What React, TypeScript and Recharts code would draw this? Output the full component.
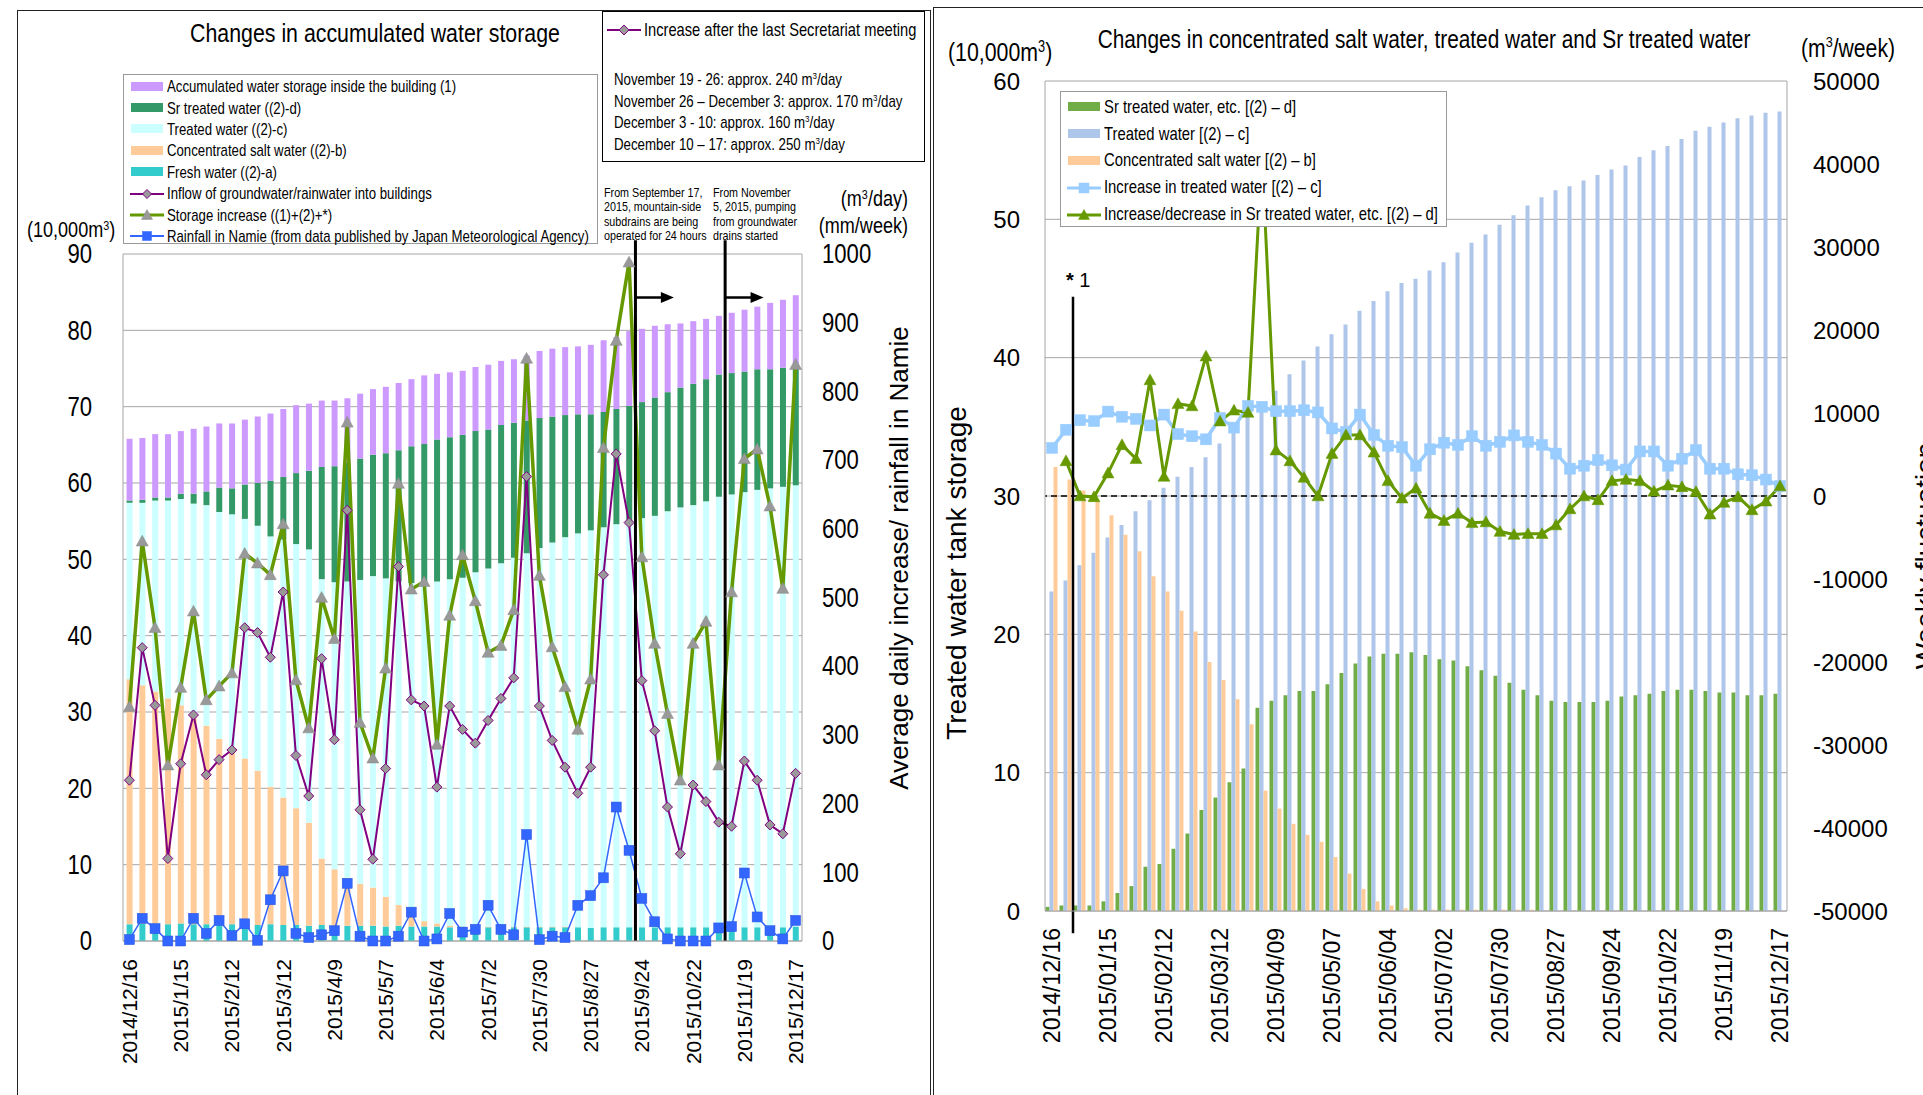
import React from 'react';
import { ComposedChart, Bar, Line, XAxis, YAxis, CartesianGrid, ReferenceLine } from 'recharts';

const SANS = "'Liberation Sans', Arial, sans-serif";
const SQUEEZE = 0.82; // stands in for Arial Narrow

// weekly dates (categories)
const dates = [
  '2014/12/16', '2014/12/25', '2015/1/1', '2015/1/8', '2015/1/15', '2015/1/22', '2015/1/29', '2015/2/5',
  '2015/2/12', '2015/2/19', '2015/2/26', '2015/3/5', '2015/3/12', '2015/3/19', '2015/3/26', '2015/4/2',
  '2015/4/9', '2015/4/16', '2015/4/23', '2015/4/30', '2015/5/7', '2015/5/14', '2015/5/21', '2015/5/28',
  '2015/6/4', '2015/6/11', '2015/6/18', '2015/6/25', '2015/7/2', '2015/7/9', '2015/7/16', '2015/7/23',
  '2015/7/30', '2015/8/6', '2015/8/13', '2015/8/20', '2015/8/27', '2015/9/3', '2015/9/10', '2015/9/17',
  '2015/9/24', '2015/10/1', '2015/10/8', '2015/10/15', '2015/10/22', '2015/10/29', '2015/11/5', '2015/11/12',
  '2015/11/19', '2015/11/26', '2015/12/3', '2015/12/10', '2015/12/17',
];

// storage, 10,000 m3
const freshWater = [
  2.2, 2.3, 2.3, 2.2, 2.3, 2.2, 2.2, 2.3, 2.2, 2.2, 2.1, 2.2, 2.1, 2.1, 2.0, 2.1, 2.0, 2.0, 2.0, 2.0,
  1.9, 2.0, 1.9, 1.9, 1.9, 1.8, 1.8, 1.9, 1.8, 1.8, 1.8, 1.8, 1.8, 1.8, 1.8, 1.8, 1.7, 1.8, 1.8, 1.8,
  1.8, 1.8, 1.8, 1.8, 1.8, 1.8, 1.8, 1.8, 1.8, 1.8, 1.8, 1.8, 1.9,
];
const saltWater = [
  32.1, 31.2, 30.4, 29.6, 28.6, 27.2, 26.0, 24.2, 23.1, 21.7, 20.2, 18.0, 16.7, 15.3, 13.5, 8.7, 7.4, 6.3, 5.5, 5.0,
  3.9, 2.7, 1.6, 0.7, 0.4, 0.2, 0.1, 0.1, 0.1, 0.1, 0.1, 0.1, 0.1, 0.1, 0.1, 0, 0, 0, 0, 0,
  0, 0, 0, 0, 0, 0, 0, 0, 0, 0, 0, 0, 0,
];
const treatedWater = [
  23.1, 23.9, 25.0, 25.9, 27.0, 27.9, 28.9, 29.7, 30.6, 31.4, 32.1, 32.8, 33.8, 34.6, 35.8, 36.6, 37.6, 38.8, 39.8, 40.8,
  41.7, 42.4, 43.4, 44.1, 44.8, 45.4, 45.7, 46.3, 46.9, 47.6, 48.3, 48.9, 49.6, 50.3, 51.0, 51.6, 52.1, 52.4, 52.8, 53.2,
  53.6, 53.9, 54.5, 55.0, 55.3, 55.8, 56.4, 56.7, 57.0, 57.3, 57.5, 57.7, 57.8,
];
const srTreated = [
  0.3, 0.4, 0.4, 0.4, 0.7, 1.3, 1.8, 3.2, 3.4, 4.5, 5.6, 7.3, 8.2, 9.3, 10.3, 14.7, 15.2, 15.6, 15.9, 15.9,
  16.4, 17.2, 17.9, 18.4, 18.6, 18.6, 18.7, 18.5, 18.2, 18.1, 17.7, 17.4, 17.0, 16.5, 16.0, 15.6, 15.2, 15.1, 15.1, 15.1,
  15.2, 15.5, 15.6, 15.7, 15.9, 16.0, 16.0, 15.9, 15.8, 15.8, 15.6, 15.6, 15.7,
];
const buildingWater = [
  8.1, 8.1, 8.3, 8.3, 8.2, 8.5, 8.5, 8.4, 8.5, 8.5, 8.7, 8.8, 8.9, 8.9, 8.8, 8.7, 8.6, 8.4, 8.5, 8.6,
  8.7, 8.8, 8.8, 9.0, 8.6, 8.5, 8.4, 8.4, 8.5, 8.4, 8.3, 8.5, 8.8, 8.9, 8.9, 8.9, 9.1, 9.4, 9.4, 9.8,
  9.6, 9.4, 8.9, 8.4, 8.2, 7.9, 7.7, 7.9, 8.1, 8.2, 8.7, 8.9, 9.2,
];

// m3/day and mm/week
const inflow = [
  234, 427, 343, 120, 258, 329, 242, 264, 278, 456, 449, 413, 508, 270, 211, 411, 293, 627, 191, 119,
  251, 545, 351, 342, 224, 342, 308, 288, 321, 353, 383, 676, 342, 292, 253, 215, 253, 533, 709, 609,
  379, 306, 195, 127, 227, 203, 173, 167, 262, 234, 169, 156, 244,
];
const storageIncrease = [
  341, 582, 456, 256, 369, 480, 351, 371, 390, 564, 550, 533, 607, 380, 310, 500, 440, 755, 318, 266,
  397, 666, 512, 523, 286, 474, 562, 495, 420, 430, 482, 848, 532, 428, 370, 308, 381, 718, 874, 988,
  559, 433, 331, 234, 433, 465, 256, 508, 702, 716, 633, 513, 839,
];
const rainfall = [
  2, 33, 18, 0, 0, 33, 11, 30, 8, 25, 1, 60, 102, 11, 5, 9, 15, 84, 7, 0,
  0, 7, 42, 0, 3, 40, 13, 17, 52, 17, 9, 155, 2, 7, 5, 52, 66, 92, 195, 132,
  62, 28, 3, 0, 0, 0, 19, 21, 99, 35, 15, 3, 30,
];

// m3/week
const treatedIncrease = [
  5790, 7980, 9130, 9020, 10170, 9550, 9290, 8500, 9810, 7460, 7200, 6830, 9390, 8240, 10850, 10750, 10220, 10220, 10330, 10070,
  8140, 7720, 9810, 7360, 6050, 5890, 3650, 5630, 6420, 6160, 7200, 6050, 6520, 7300, 6520, 6160, 5110, 3290, 3650, 4330,
  3700, 3180, 5370, 5370, 3650, 4490, 5530, 3290, 3290, 2610, 2500, 1980, 1200,
];
const srChange = [
  null, 4230, 0, -100, 2760, 6160, 4490, 13980, 2350, 11110, 10850, 16850, 9020, 10330, 10070, 41000, 5530, 4230, 2240, 0,
  5110, 7360, 7360, 5270, 1830, -260, 940, -2090, -2970, -2090, -3230, -3130, -4280, -4640, -4540, -4540, -3500, -1560, 0, -470,
  1830, 1980, 1830, 570, 1300, 1100, 520, -2190, -780, -100, -1670, -630, 1200,
];

const leftTicks = [0, 10, 20, 30, 40, 50, 60, 70, 80, 90];
const rightTicks = [0, 100, 200, 300, 400, 500, 600, 700, 800, 900, 1000];
const storageTicks = [0, 10, 20, 30, 40, 50, 60];
const weeklyTicks = [-50000, -40000, -30000, -20000, -10000, 0, 10000, 20000, 30000, 40000, 50000];

const rows = dates.map((date, i) => ({
  date,
  fresh: freshWater[i],
  salt: saltWater[i],
  treated: treatedWater[i],
  sr: srTreated[i],
  building: buildingWater[i],
  inflow: inflow[i],
  storage: storageIncrease[i],
  rain: rainfall[i],
  treatedInc: treatedIncrease[i],
  srInc: srChange[i],
}));

const padDate = (d: string) => {
  const [y, m, dd] = d.split('/');
  return `${y}/${m.padStart(2, '0')}/${dd.padStart(2, '0')}`;
};

function marker(kind: string, cx: number, cy: number, s: number, fill: string, stroke: string) {
  const h = s / 2;
  if (kind === 'diamond') {
    return <polygon points={`${cx},${cy - h} ${cx + h},${cy} ${cx},${cy + h} ${cx - h},${cy}`} fill={fill} stroke={stroke} strokeWidth={1} />;
  }
  if (kind === 'triangle') {
    return <polygon points={`${cx},${cy - h} ${cx + h},${cy + h * 0.8} ${cx - h},${cy + h * 0.8}`} fill={fill} stroke={stroke} strokeWidth={0.5} />;
  }
  return <rect x={cx - h} y={cy - h} width={s} height={s} fill={fill} stroke={stroke} strokeWidth={0.5} />;
}

const makeDot = (kind: string, size: number, fill: string, stroke: string) => (p: any) => {
  const { cx, cy, index } = p;
  const key = `${kind}-${fill}-${index}`;
  if (cx == null || cy == null || Number.isNaN(cx) || Number.isNaN(cy)) return <g key={key} />;
  return <g key={key}>{marker(kind, cx, cy, size, fill, stroke)}</g>;
};

const makeDateTick = (size: number, dy: number, padded: boolean) => (p: any) => {
  const { x, y, payload } = p;
  const ty = y + dy;
  return (
    <text x={x} y={ty} transform={`rotate(-90 ${x} ${ty})`} textAnchor="end" dominantBaseline="central"
      fontSize={size} fontFamily={SANS} fill="#000">
      {padded ? padDate(payload.value) : payload.value}
    </text>
  );
};

const makeNarrowTick = (size: number, anchor: string) => (p: any) => {
  const { x, y, payload } = p;
  return (
    <text x={0} y={0} transform={`translate(${x},${y}) scale(${SQUEEZE},1)`} textAnchor={anchor}
      dominantBaseline="central" fontSize={size} fontFamily={SANS} fill="#000">
      {payload.value}
    </text>
  );
};

const ArrowShape = (p: any) => {
  const { x1, y1, x2, y2 } = p;
  return (
    <g>
      <line x1={x1} y1={y1} x2={x2 - 10} y2={y2} stroke="#000" strokeWidth={2.5} />
      <polygon points={`${x2},${y2} ${x2 - 13},${y2 - 5.5} ${x2 - 13},${y2 + 5.5}`} fill="#000" />
    </g>
  );
};

// narrow text label: x,y is the anchor point, text vertically centred on y
const Label = ({ x, y, size, anchor = 'start', narrow = true, rotate = 0, children }: any) => {
  const shift = anchor === 'middle' ? '-50%' : anchor === 'end' ? '-100%' : '0';
  const origin = anchor === 'middle' ? 'center' : anchor === 'end' ? 'right center' : 'left center';
  const sx = narrow ? SQUEEZE : 1;
  return (
    <div style={{
      position: 'absolute', left: x, top: y, fontFamily: SANS, fontSize: size, lineHeight: 1,
      whiteSpace: 'nowrap', color: '#000', transformOrigin: origin,
      transform: `translate(${shift}, -50%) rotate(${rotate}deg) scaleX(${sx})`,
    }}>{children}</div>
  );
};

const Sup = ({ children }: any) => <span style={{ fontSize: '0.6em', verticalAlign: '0.6em' }}>{children}</span>;

const Swatch = ({ color }: any) => (
  <svg width={34} height={12} style={{ marginRight: 3, flex: 'none' }}>
    <rect x={1} y={1} width={32} height={9} fill={color} />
  </svg>
);

const LineKey = ({ color, width, kind, size, fill, stroke }: any) => (
  <svg width={34} height={14} style={{ marginRight: 3, flex: 'none' }}>
    <line x1={0} y1={7} x2={34} y2={7} stroke={color} strokeWidth={width} />
    {marker(kind, 17, 7, size, fill, stroke)}
  </svg>
);

const Row = ({ h, size, keyItem, children }: any) => (
  <div style={{ display: 'flex', alignItems: 'center', height: h, fontFamily: SANS, fontSize: size, whiteSpace: 'nowrap' }}>
    {keyItem}
    <span style={{ display: 'inline-block', transform: `scaleX(${SQUEEZE})`, transformOrigin: 'left center' }}>{children}</span>
  </div>
);

const Block = ({ x, y, size, lh, children }: any) => (
  <div style={{
    position: 'absolute', left: x, top: y, fontFamily: SANS, fontSize: size, lineHeight: `${lh}px`,
    whiteSpace: 'nowrap', transform: `scaleX(${SQUEEZE})`, transformOrigin: 'left top',
  }}>{children}</div>
);

const App: React.FC = () => {
  const grey = '#a6a6a6';
  return (
    <div style={{ position: 'absolute', left: 0, top: 0, width: 1923, height: 1095, background: '#fff', overflow: 'hidden' }}>
      {/* panel frames */}
      <div style={{ position: 'absolute', left: 17, top: 10, width: 912, height: 1100, border: '1.5px solid #222' }} />
      <div style={{ position: 'absolute', left: 933, top: 7, width: 1000, height: 1100, border: '1.5px solid #222' }} />

      {/* left chart */}
      <div style={{ position: 'absolute', left: 0, top: 0 }}>
        <ComposedChart width={935} height={1095} data={rows} margin={{ top: 254, right: 73, bottom: 14, left: 83 }}
          barCategoryGap="28%">
          <CartesianGrid yAxisId="left" vertical={false} stroke={grey} />
          <XAxis dataKey="date" interval={3} height={140} tickLine={false} axisLine={{ stroke: grey }}
            tick={makeDateTick(21, 10, false)} />
          <YAxis yAxisId="left" domain={[0, 90]} ticks={leftTicks} width={40} tickLine={false}
            axisLine={{ stroke: grey }} tickMargin={25} tick={makeNarrowTick(27, 'end')} />
          <YAxis yAxisId="right" orientation="right" domain={[0, 1000]} ticks={rightTicks} width={60} tickLine={false}
            axisLine={{ stroke: grey }} tickMargin={14} tick={makeNarrowTick(27, 'start')} />
          <Bar yAxisId="left" dataKey="fresh" stackId="s" fill="#33cccc" isAnimationActive={false} />
          <Bar yAxisId="left" dataKey="salt" stackId="s" fill="#ffcc99" isAnimationActive={false} />
          <Bar yAxisId="left" dataKey="treated" stackId="s" fill="#ccffff" isAnimationActive={false} />
          <Bar yAxisId="left" dataKey="sr" stackId="s" fill="#339966" isAnimationActive={false} />
          <Bar yAxisId="left" dataKey="building" stackId="s" fill="#cc99ff" isAnimationActive={false} />
          <Line yAxisId="right" dataKey="inflow" stroke="#800080" strokeWidth={2} isAnimationActive={false}
            dot={makeDot('diamond', 10, '#999999', '#800080')} activeDot={false} />
          <Line yAxisId="right" dataKey="storage" stroke="#669900" strokeWidth={3.5} isAnimationActive={false}
            dot={makeDot('triangle', 12, '#999999', '#888888')} activeDot={false} />
          <Line yAxisId="right" dataKey="rain" stroke="#3366ff" strokeWidth={1.5} isAnimationActive={false}
            dot={makeDot('square', 10, '#3366ff', '#2a55dd')} activeDot={false} />
          <ReferenceLine yAxisId="left" segment={[{ x: '2015/9/17', y: 0 }, { x: '2015/9/17', y: 91.8 }]}
            position="end" ifOverflow="visible" stroke="#000" strokeWidth={3} />
          <ReferenceLine yAxisId="left" segment={[{ x: '2015/11/5', y: 0 }, { x: '2015/11/5', y: 91.8 }]}
            position="end" ifOverflow="visible" stroke="#000" strokeWidth={3} />
          <ReferenceLine yAxisId="left" segment={[{ x: '2015/9/17', y: 84.3 }, { x: '2015/10/8', y: 84.3 }]}
            position="end" ifOverflow="visible" shape={ArrowShape} />
          <ReferenceLine yAxisId="left" segment={[{ x: '2015/11/5', y: 84.3 }, { x: '2015/11/26', y: 84.3 }]}
            position="end" ifOverflow="visible" shape={ArrowShape} />
        </ComposedChart>
      </div>

      {/* right chart */}
      <div style={{ position: 'absolute', left: 934, top: 0 }}>
        <ComposedChart width={989} height={1095} data={rows} margin={{ top: 81, right: 56, bottom: 34, left: 61 }}
          barCategoryGap={0.5} barGap={0}>
          <CartesianGrid yAxisId="left" vertical={false} stroke={grey} />
          <XAxis dataKey="date" interval={3} height={150} tickLine={false} axisLine={{ stroke: grey }}
            tick={makeDateTick(23, 9, true)} />
          <YAxis yAxisId="left" domain={[0, 60]} ticks={storageTicks} width={50} tickLine={false}
            axisLine={{ stroke: grey }} tickMargin={19} tick={{ fontSize: 24, fill: '#000', fontFamily: SANS }} />
          <YAxis yAxisId="right" orientation="right" domain={[-50000, 50000]} ticks={weeklyTicks} width={80}
            tickLine={false} axisLine={{ stroke: grey }} tickMargin={20} tick={{ fontSize: 24, fill: '#000', fontFamily: SANS }} />
          <Bar yAxisId="left" dataKey="sr" fill="#70ad47" isAnimationActive={false} />
          <Bar yAxisId="left" dataKey="treated" fill="#adc6ea" isAnimationActive={false} />
          <Bar yAxisId="left" dataKey="salt" fill="#ffcc99" isAnimationActive={false} />
          <ReferenceLine yAxisId="right" y={0} stroke="#000" strokeDasharray="6 4" strokeWidth={1.5} />
          <Line yAxisId="right" dataKey="treatedInc" stroke="#99ccff" strokeWidth={3.5} isAnimationActive={false}
            dot={makeDot('square', 11, '#99ccff', '#99ccff')} activeDot={false} />
          <Line yAxisId="right" dataKey="srInc" stroke="#669900" strokeWidth={3} isAnimationActive={false}
            dot={makeDot('triangle', 12, '#669900', '#669900')} activeDot={false} />
          <ReferenceLine yAxisId="left" segment={[{ x: '2014/12/25', y: -1.6 }, { x: '2014/12/25', y: 44.4 }]}
            position="end" ifOverflow="visible" stroke="#000" strokeWidth={2.5} />
        </ComposedChart>
      </div>

      {/* left chart texts */}
      <Label x={375} y={33} size={26} anchor="middle">Changes in accumulated water storage</Label>
      <Label x={27} y={230} size={22}>(10,000m<Sup>3</Sup>)</Label>
      <Label x={908} y={199} size={22} anchor="end">(m<Sup>3</Sup>/day)</Label>
      <Label x={908} y={226} size={22} anchor="end">(mm/week)</Label>
      <Label x={899} y={558} size={26} anchor="middle" narrow={false} rotate={-90}>Average daily increase/ rainfall in Namie</Label>

      <Block x={604} y={186} size={13.1} lh={14.4}>
        From September 17,<br />2015, mountain-side<br />subdrains are being<br />operated for 24 hours
      </Block>
      <Block x={713} y={186} size={13.1} lh={14.4}>
        From November<br />5, 2015, pumping<br />from groundwater<br />drains started
      </Block>

      <div style={{ position: 'absolute', left: 123, top: 74, width: 475, height: 170, border: '1px solid #999', background: '#fff', paddingLeft: 6, paddingTop: 1, boxSizing: 'border-box' }}>
        <Row h={21.4} size={16.1} keyItem={<Swatch color="#cc99ff" />}>Accumulated water storage inside the building (1)</Row>
        <Row h={21.4} size={16.1} keyItem={<Swatch color="#339966" />}>Sr treated water ((2)-d)</Row>
        <Row h={21.4} size={16.1} keyItem={<Swatch color="#ccffff" />}>Treated water ((2)-c)</Row>
        <Row h={21.4} size={16.1} keyItem={<Swatch color="#ffcc99" />}>Concentrated salt water ((2)-b)</Row>
        <Row h={21.4} size={16.1} keyItem={<Swatch color="#33cccc" />}>Fresh water ((2)-a)</Row>
        <Row h={21.4} size={16.1} keyItem={<LineKey color="#800080" width={2} kind="diamond" size={9} fill="#999999" stroke="#800080" />}>Inflow of groundwater/rainwater into buildings</Row>
        <Row h={21.4} size={16.1} keyItem={<LineKey color="#669900" width={3} kind="triangle" size={11} fill="#999999" stroke="#888888" />}>Storage increase ((1)+(2)+*)</Row>
        <Row h={21.4} size={16.1} keyItem={<LineKey color="#3366ff" width={2} kind="square" size={9} fill="#3366ff" stroke="#3366ff" />}>Rainfall in Namie (from data published by Japan Meteorological Agency)</Row>
      </div>

      <div style={{ position: 'absolute', left: 602, top: 11, width: 323, height: 151, border: '1.5px solid #000', background: '#fff', boxSizing: 'border-box' }}>
        <div style={{ position: 'absolute', left: 4, top: 8 }}>
          <Row h={20} size={17.9} keyItem={<LineKey color="#800080" width={2} kind="diamond" size={10} fill="#999999" stroke="#800080" />}>Increase after the last Secretariat meeting</Row>
        </div>
        <Block x={11} y={55} size={16.2} lh={18.9}>
          November 19 - 26: approx. 240 m<Sup>3</Sup>/day<br />
          November 26 – December 3: approx. 170 m<Sup>3</Sup>/day<br />
          December 3 - 10: approx. 160 m<Sup>3</Sup>/day<br />
          December 10 – 17: approx. 250 m<Sup>3</Sup>/day
        </Block>
      </div>

      {/* right chart texts */}
      <Label x={1424} y={40} size={25.4} anchor="middle">Changes in concentrated salt water, treated water and Sr treated water</Label>
      <Label x={948} y={52} size={26}>(10,000m<Sup>3</Sup>)</Label>
      <Label x={1895} y={48} size={25.8} anchor="end">(m<Sup>3</Sup>/week)</Label>
      <Label x={957} y={573} size={28} anchor="middle" narrow={false} rotate={-90}>Treated water tank storage</Label>
      <Label x={1926} y={556} size={28} anchor="middle" narrow={false} rotate={-90}>Weekly fluctuation</Label>
      <Label x={1066} y={280} size={20} narrow={false}><b>*</b> 1</Label>

      <div style={{ position: 'absolute', left: 1060, top: 91, width: 387, height: 136, border: '1px solid #999', background: '#fff', paddingLeft: 6, paddingTop: 2, boxSizing: 'border-box' }}>
        <Row h={26.8} size={18.1} keyItem={<Swatch color="#70ad47" />}>Sr treated water, etc. [(2) – d]</Row>
        <Row h={26.8} size={18.1} keyItem={<Swatch color="#adc6ea" />}>Treated water [(2) – c]</Row>
        <Row h={26.8} size={18.1} keyItem={<Swatch color="#ffcc99" />}>Concentrated salt water [(2) – b]</Row>
        <Row h={26.8} size={18.1} keyItem={<LineKey color="#99ccff" width={3} kind="square" size={10} fill="#99ccff" stroke="#99ccff" />}>Increase in treated water [(2) – c]</Row>
        <Row h={26.8} size={18.1} keyItem={<LineKey color="#669900" width={3} kind="triangle" size={11} fill="#669900" stroke="#669900" />}>Increase/decrease in Sr treated water, etc. [(2) – d]</Row>
      </div>
    </div>
  );
};

export default App;
